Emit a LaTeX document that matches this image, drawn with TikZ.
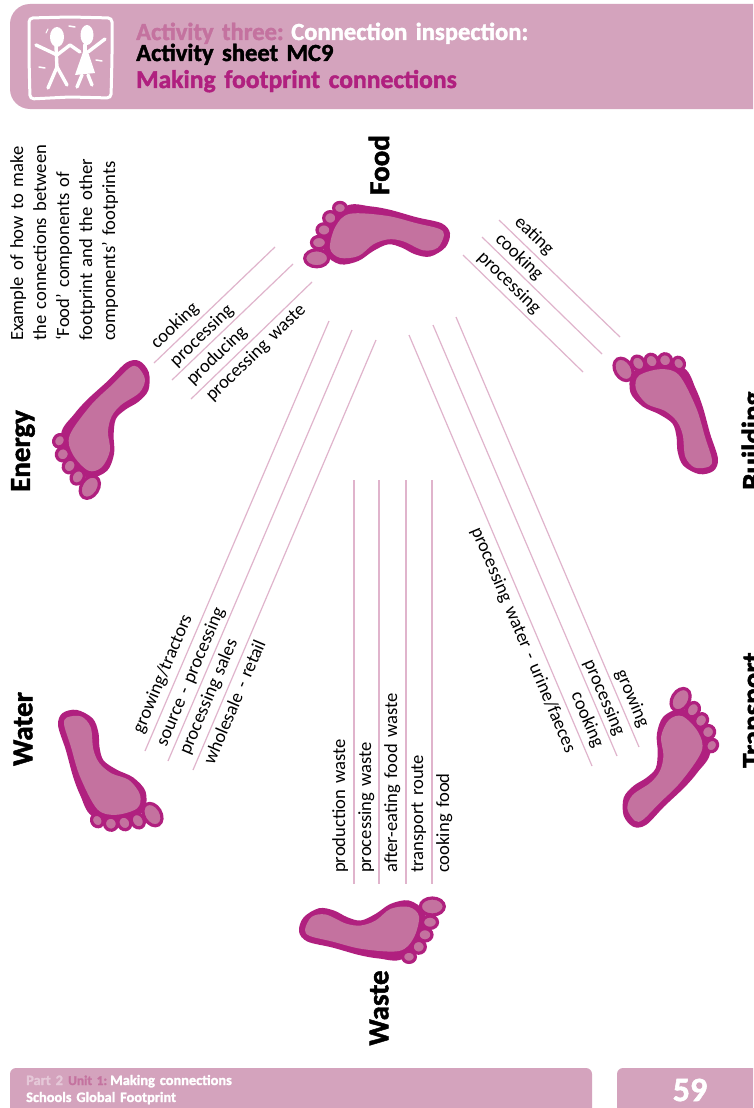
\documentclass[tikz,border=0pt]{standalone}
\usepackage{fontspec}
\setmainfont{Carlito}[WordSpace=1.5,BoldFeatures={FakeBold=1.6}]
\definecolor{band}{HTML}{D4A3BD}
\definecolor{dusty}{HTML}{C4729F}
\definecolor{magentaDark}{HTML}{B0207F}
\definecolor{lineRose}{HTML}{E0B4CC}
\definecolor{paleRose}{HTML}{E5C8D8}
\tikzset{
  x=1pt,y=1pt,
  link/.style={draw=lineRose,line width=1.2pt},
  lab/.style={inner sep=0pt,font=\fontsize{18.6}{18.6}\selectfont,text=black},
  bigname/.style={inner sep=0pt,rotate=90,font=\fontsize{29}{29}\selectfont\bfseries,text=black},
  head/.style={inner sep=0pt,anchor=base west,font=\fontsize{24.6}{25}\selectfont\bfseries},
  foot text/.style={inner sep=0pt,anchor=base west,font=\fontsize{14.4}{14.4}\selectfont\bfseries},
  foot/.pic={
    \fill[magentaDark] plot[smooth cycle,tension=0.55] coordinates {(-28.3,27.5)(-5,27)(15,23.5)(41.7,16)(66.7,10)(75,0)(70.5,-14)(55,-23.3)(40,-21)(26.7,-14.3)(13.3,-11)(-1.7,-17.7)(-16.7,-27.7)(-35,-31)(-50,-20)(-51.7,3.3)};
    \begin{scope}[draw=magentaDark,fill=dusty,line width=3.2pt]
      \filldraw (-58.3,-25) ellipse [x radius=12,y radius=8.5];
      \filldraw (-56,-9.3) ellipse [x radius=7.5,y radius=6.2];
      \filldraw (-51,3.3) ellipse [x radius=7,y radius=6.2];
      \filldraw (-44.7,15.3) ellipse [x radius=6.6,y radius=6.4];
      \filldraw (-35,25.3) ellipse [x radius=6.4,y radius=5.6];
    \end{scope}
    \fill[dusty] plot[smooth cycle,tension=0.55] coordinates {(-25,19.5)(11.7,17.5)(41.7,10)(64,4.5)(69,-1.7)(62.5,-14.5)(48.3,-17)(28.3,-8)(13.3,-6)(-1.7,-11)(-16.7,-22.7)(-35,-24.5)(-45,-15)(-39.5,6.7)};
  }
}
\begin{document}
\begin{tikzpicture}
\useasboundingbox (0,0) rectangle (753,-1108);
\fill[white] (0,0) rectangle (753,-1108);
% header band
\fill[band] (753,-4) -- (30,-4) arc[start angle=90,end angle=180,radius=20] -- (10,-89) arc[start angle=180,end angle=270,radius=20] -- (753,-109) -- cycle;
% logo
\draw[white,line width=3pt,rounded corners=4pt] (29,-18) -- (70,-17) -- (112,-18) -- (112,-58) -- (111,-98) -- (70,-97) -- (30,-99) -- (29,-58) -- cycle;
\begin{scope}[white,line width=3.4pt,line cap=round,line join=round]
  \fill (57,-37) ellipse [x radius=7,y radius=10];
  \fill (87,-35) ellipse [x radius=6.5,y radius=10];
  \draw (36,-45) -- (53,-53) -- (57,-55) -- (70,-45) -- (80,-52);
  \draw (56,-46) -- (57,-68);
  \draw (57,-67) -- (48,-88);
  \draw (57,-67) -- (67,-85);
  \draw (85,-45) -- (85,-54);
  \draw (88,-52) -- (105,-39);
  \fill (83,-52) -- (88,-52) -- (95,-73) -- (75,-75) -- cycle;
  \draw (82,-75) -- (77,-87);
  \draw (88,-75) -- (92,-85);
  \draw[line width=1.5pt] (69,-26) -- (75,-27);
  \draw[line width=1.5pt] (39,-67) -- (45,-68);
  \draw[line width=1.5pt] (96,-60) -- (102,-61);
  \draw[line width=1pt] (46,-33) -- (48,-29);
\end{scope}
% header text
\node[head,text=dusty] (h1a) at (136,-40) {Activity three:};
\node[head,text=white] (h1b) at (291,-40) {Connection inspection:};
\node[head,text=black] (h2) at (136,-61) {Activity sheet MC9};
\node[head,text=magentaDark,font=\fontsize{25.6}{26}\selectfont\bfseries] (h3) at (136,-88) {Making footprint connections};
% footer
\fill[band] (10,-1108) -- (10,-1074) arc[start angle=180,end angle=90,radius=6] -- (586,-1068) arc[start angle=90,end angle=0,radius=6] -- (592,-1108) -- cycle;
\fill[band] (617,-1108) -- (617,-1074) arc[start angle=180,end angle=90,radius=6] -- (753,-1068) -- (753,-1108) -- cycle;
\node[foot text,text=paleRose] (f1) at (26,-1085) {Part 2};
\node[foot text,text=dusty,font=\fontsize{13.4}{14}\selectfont\bfseries] (f2) at (68,-1085) {Unit 1:};
\node[foot text,text=white] (f3) at (110,-1085) {Making connections};
\node[foot text,text=white] (f4) at (26,-1102) {Schools Global Footprint};
\node[inner sep=0pt,text=white,font=\fontsize{34}{34}\selectfont\bfseries] (page) at (690,-1090) {59};
% footprints
\pic (foodfoot) at (375,-233.3) {foot};
\pic[rotate=58] (energyfoot) at (99.5,-424.5) {foot};
\pic[rotate=-59] (buildingfoot) at (675,-406.5) {foot};
\pic[rotate=-121] (transportfoot) at (672,-762.5) {foot};
\pic[rotate=180] (wastefoot) at (374,-931.5) {foot};
\pic[rotate=121] (waterfoot) at (101,-777.5) {foot};
% names
\node[bigname] (food) at (379,-165) {Food};
\node[bigname] (energy) at (23,-451) {Energy};
\node[bigname] (water) at (23,-729) {Water};
\node[bigname] (waste) at (379,-1008) {Waste};
\node[bigname,anchor=base west] (building) at (762,-490) {Building};
\node[bigname,anchor=base west] (transport) at (762,-768) {Transport};
% note
\node[inner sep=0pt,rotate=90,anchor=north west,align=left,font=\fontsize{18.6}{23}\selectfont] (note) at (10,-341)
  {Example of how to make\\the connections between\\`Food' components of\\footprint and the other\\components' footprints};
% lines: energy
\draw[link] (154,-363) -- (275,-247);
\draw[link] (172,-380) -- (293,-264);
\draw[link] (191,-399) -- (312,-282);
% lines: building
\draw[link] (499,-220) -- (620,-337);
\draw[link] (482,-237) -- (602,-354);
\draw[link] (463,-255) -- (583,-372);
% lines: water
\draw[link] (145,-751) -- (329,-321);
\draw[link] (168,-761) -- (352,-330);
\draw[link] (193,-770) -- (376,-340);
% lines: waste
\draw[link] (354,-480) -- (354,-884);
\draw[link] (379,-480) -- (379,-884);
\draw[link] (406,-480) -- (406,-884);
\draw[link] (432,-480) -- (432,-884);
% lines: transport
\draw[link] (639,-747) -- (456,-317);
\draw[link] (617,-756) -- (433,-325);
\draw[link] (592,-766) -- (409,-335);
% labels: energy
\node[lab,rotate=44] (e1) at (175,-326) {cooking};
\node[lab,rotate=44] (e2) at (202,-336) {processing};
\node[lab,rotate=44] (e3) at (217,-356) {producing};
\node[lab,rotate=44] (e4) at (256,-353) {processing waste};
% labels: building
\node[lab,rotate=-44] (b1) at (534,-236) {eating};
\node[lab,rotate=-44] (b2) at (519,-257) {cooking};
\node[lab,rotate=-44] (b3) at (509,-283) {processing};
% labels: water
\node[lab,rotate=67] (w1) at (163,-674) {growing/tractors};
\node[lab,rotate=67] (w2) at (191,-677) {source - processing};
\node[lab,rotate=67] (w3) at (209,-697) {processing sales};
\node[lab,rotate=67] (w4) at (234,-702) {wholesale - retail};
% labels: waste
\node[lab,rotate=90,anchor=base west] (s1) at (345,-873) {production waste};
\node[lab,rotate=90,anchor=base west] (s2) at (371,-873) {processing waste};
\node[lab,rotate=90,anchor=base west] (s3) at (397,-873) {after-eating food waste};
\node[lab,rotate=90,anchor=base west] (s4) at (423,-873) {transport route};
\node[lab,rotate=90,anchor=base west] (s5) at (449,-873) {cooking food};
% labels: transport
\node[lab,rotate=-67] (t1) at (632,-699) {growing};
\node[lab,rotate=-67] (t2) at (604,-698) {processing};
\node[lab,rotate=-67] (t3) at (587,-720) {cooking};
\node[lab,rotate=-67] (t4) at (523,-640) {processing water - urine/faeces};
\end{tikzpicture}
\end{document}
